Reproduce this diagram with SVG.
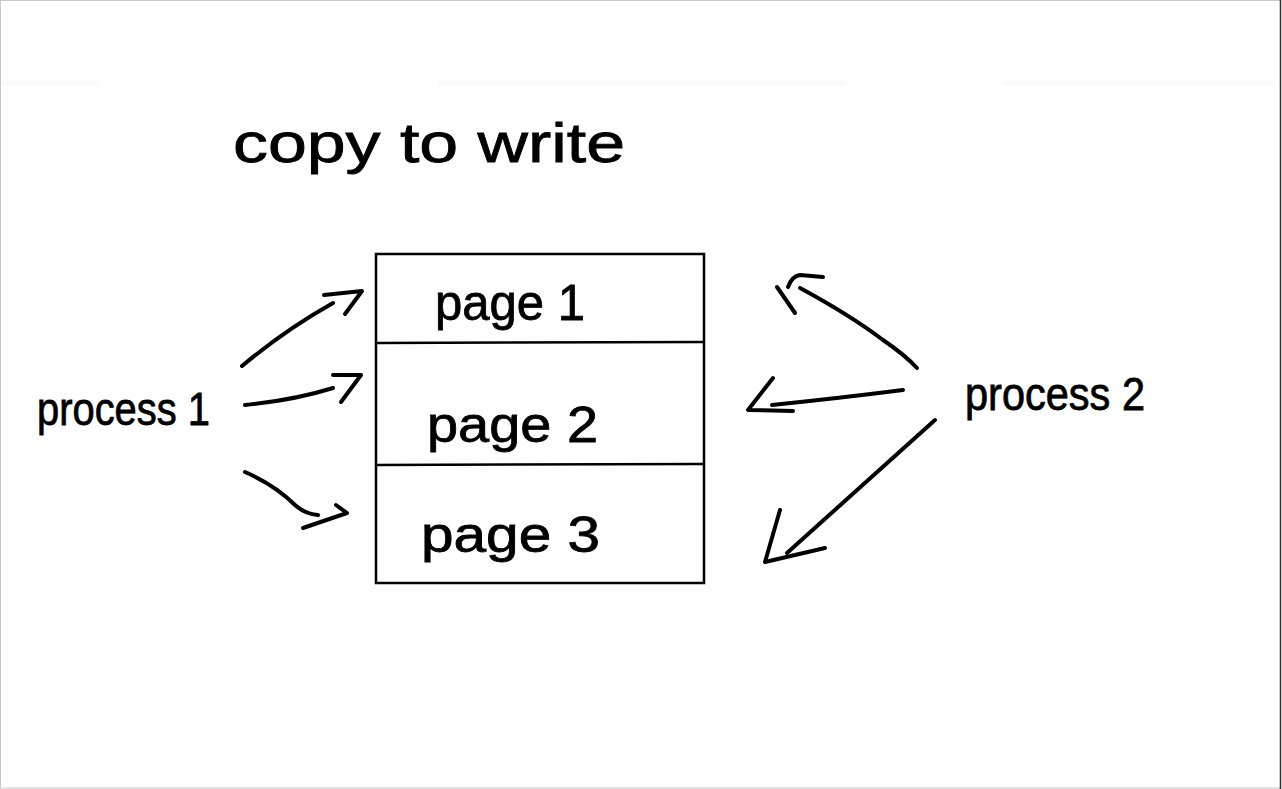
<svg xmlns="http://www.w3.org/2000/svg" width="1282" height="789" viewBox="0 0 1282 789">
<style>
.t{font-family:"Liberation Sans","DejaVu Sans",sans-serif;fill:#000;stroke:#000;stroke-width:0.8}
.s{fill:none;stroke:#000;stroke-width:4;stroke-linecap:round;stroke-linejoin:round}
.b{fill:none;stroke:#000;stroke-width:2.5}
.f{stroke:#f9f9f9;stroke-width:5;stroke-linecap:round}
</style>
<rect x="0" y="0" width="1282" height="789" fill="#fff"/>
<rect x="0.5" y="0.5" width="1280" height="787.5" fill="none" stroke="#c8c8c8" stroke-width="1"/>
<line x1="1280.5" y1="0" x2="1280.5" y2="789" stroke="#333" stroke-width="1.5"/>
<line class="f" x1="5" y1="83" x2="95" y2="83"/>
<line class="f" x1="440" y1="83" x2="845" y2="83"/>
<line class="f" x1="1005" y1="83" x2="1270" y2="83"/>
<g id="title"><text class="t" x="233" y="162" font-size="56" textLength="392" lengthAdjust="spacingAndGlyphs">copy to write</text></g>
<g id="process1"><text class="t" x="37" y="425" font-size="46" textLength="173" lengthAdjust="spacingAndGlyphs">process 1</text></g>
<g id="process2"><text class="t" x="965" y="410" font-size="46" textLength="180" lengthAdjust="spacingAndGlyphs">process 2</text></g>
<g id="pages">
<rect class="b" x="376" y="254" width="328" height="329"/>
<line class="b" x1="376" y1="343" x2="704" y2="342"/>
<line class="b" x1="376" y1="465" x2="704" y2="464"/>
</g>
<g id="page1"><text class="t" x="435" y="320" font-size="50" textLength="150" lengthAdjust="spacingAndGlyphs">page 1</text></g>
<g id="page2"><text class="t" x="427" y="442" font-size="50" textLength="171" lengthAdjust="spacingAndGlyphs">page 2</text></g>
<g id="page3"><text class="t" x="421" y="552" font-size="50" textLength="179" lengthAdjust="spacingAndGlyphs">page 3</text></g>
<g id="connectors">
<path class="s" d="M242 366 Q285 330 333 303"/>
<path class="s" d="M324 295 L362 291 L345 314"/>
<path class="s" d="M245 405 Q295 400 333 388"/>
<path class="s" d="M333 375 L361 375 L341 402"/>
<path class="s" d="M245 472 Q275 485 295 505 Q305 514 318 515"/>
<path class="s" d="M303 528 L347 513 L336 505"/>
<path class="s" d="M800 288 Q850 315 883 340 Q905 355 917 368"/>
<path class="s" d="M777 287 Q786 300 795 313"/>
<path class="s" d="M788 287 Q792 276 800 275 L823 277"/>
<path class="s" d="M772 405 Q840 398 903 390"/>
<path class="s" d="M773 378 L748 410 L793 411"/>
<path class="s" d="M935 420 L787 553"/>
<path class="s" d="M780 510 L765 562 L825 548"/>
</g>
</svg>
